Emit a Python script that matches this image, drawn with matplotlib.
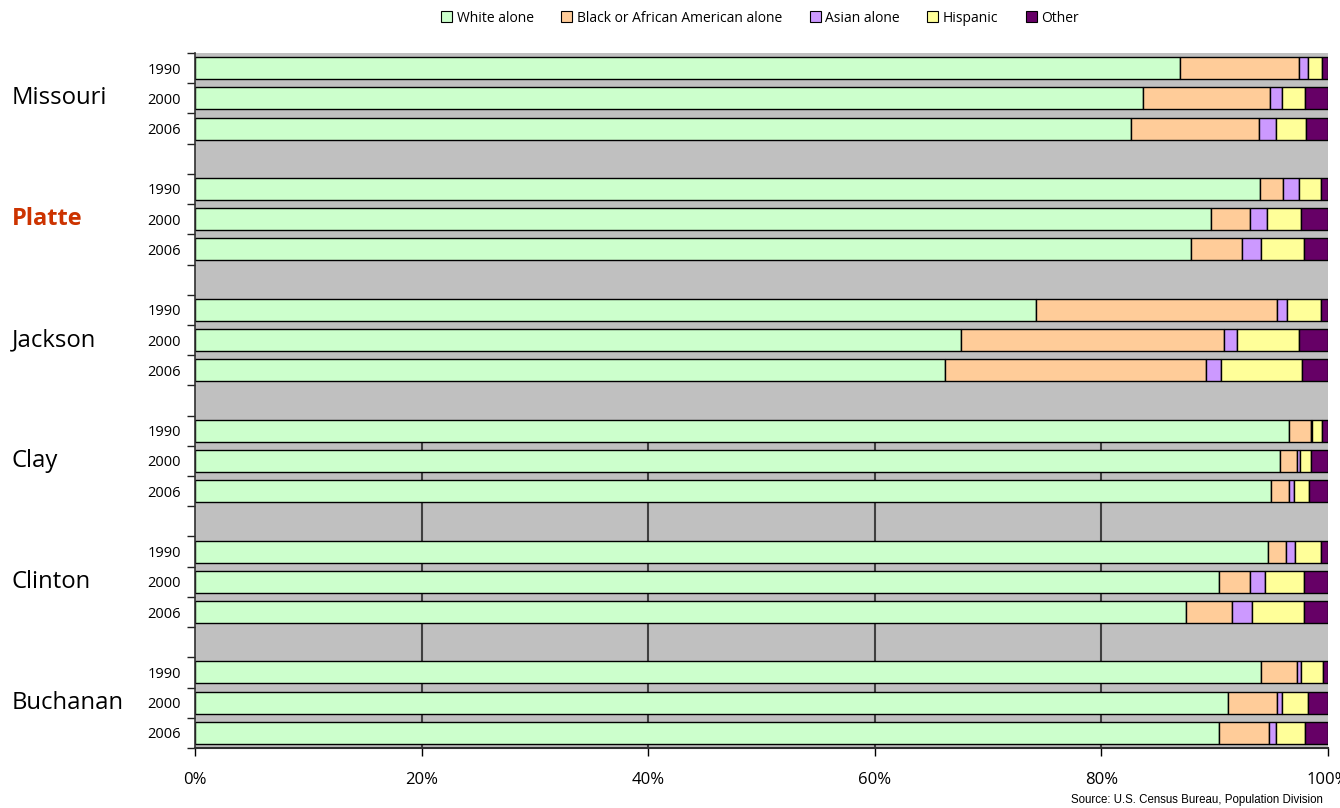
import matplotlib
matplotlib.use("Agg")
import matplotlib.pyplot as plt
from matplotlib.patches import Patch
from matplotlib.ticker import FixedLocator, FuncFormatter

plt.rcParams['font.family'] = ['Open Sans', 'DejaVu Sans']

counties = ["Missouri", "Platte", "Jackson", "Clay", "Clinton", "Buchanan"]
years = ["1990", "2000", "2006"]
series_names = ["White alone", "Black or African American alone", "Asian alone", "Hispanic", "Other"]
colors = ["#CCFFCC", "#FFCC99", "#CC99FF", "#FFFF99", "#660066"]

white = [86.9, 83.7, 82.6, 94.0, 89.7, 87.9, 74.2, 67.6, 66.2, 96.6, 95.8, 95.0, 94.7, 90.4, 87.5, 94.1, 91.2, 90.4]
black = [10.5, 11.2, 11.3, 2.0, 3.4, 4.5, 21.3, 23.2, 23.0, 1.9, 1.5, 1.6, 1.6, 2.7, 4.0, 3.2, 4.3, 4.4]
asian = [0.8, 1.0, 1.5, 1.4, 1.5, 1.7, 0.9, 1.2, 1.4, 0.1, 0.2, 0.4, 0.8, 1.3, 1.8, 0.3, 0.4, 0.6]
hispanic = [1.3, 2.1, 2.7, 2.0, 3.0, 3.8, 3.0, 5.4, 7.1, 0.9, 1.0, 1.3, 2.3, 3.5, 4.6, 2.0, 2.3, 2.6]
other = [0.5, 2.0, 1.9, 0.6, 2.4, 2.1, 0.6, 2.6, 2.3, 0.5, 1.5, 1.7, 0.6, 2.1, 2.1, 0.4, 1.8, 2.0]
series = [white, black, asian, hispanic, other]

fig = plt.figure(figsize=(13.4, 8.08), dpi=100)
ax = fig.add_axes([195/1340, 1-748/808, (1328-195)/1340, (748-53)/808])
ax.set_facecolor("#C0C0C0")

# slot positions: 3 bars per county, one empty slot between counties
positions = []
for g in range(len(counties)):
    for k in range(len(years)):
        positions.append(g * 4 + k)
nslots = len(counties) * 4 - 1

# partial gridlines (as in reference, visible in lower part only)
for xv in [20, 40, 60, 80]:
    ax.vlines(xv, 12.37, nslots - 0.5, color="#404040", linewidth=1.5, zorder=1)

left = [0.0] * len(positions)
for vals, col in zip(series, colors):
    ax.barh(positions, vals, left=left, height=0.73, color=col,
            edgecolor="black", linewidth=1.0, zorder=2)
    left = [l + v for l, v in zip(left, vals)]

ax.set_xlim(0, 100)
ax.set_ylim(nslots - 0.5, -0.5)

ax.xaxis.set_major_locator(FixedLocator([0, 20, 40, 60, 80, 100]))
ax.xaxis.set_major_formatter(FuncFormatter(lambda v, p: f"{int(v)}%"))
ax.tick_params(axis="x", direction="out", length=6, width=1, pad=11, labelsize=12, colors="black")

ax.yaxis.set_major_locator(FixedLocator([i - 0.5 for i in range(nslots + 1)]))
ax.yaxis.set_major_formatter(FuncFormatter(lambda v, p: ""))
ax.yaxis.set_minor_locator(FixedLocator(positions))
ax.yaxis.set_minor_formatter(FuncFormatter(lambda v, p: years[int(round(v)) % 4] if int(round(v)) % 4 < 3 else ""))
ax.tick_params(axis="y", which="major", direction="out", length=6, width=1, color="#202020")
ax.tick_params(axis="y", which="minor", length=0, pad=10, labelsize=10.5)

for s in ["top", "right"]:
    ax.spines[s].set_visible(False)
ax.spines["left"].set_color("#303030")
ax.spines["bottom"].set_color("#303030")
ax.spines["left"].set_linewidth(1.2)
ax.spines["bottom"].set_linewidth(1.5)

# county labels
for g, name in enumerate(counties):
    y = g * 4 + 1
    if name == "Platte":
        ax.text(-0.162, y, name, transform=ax.get_yaxis_transform(), ha="left", va="center",
                fontsize=17, fontweight="bold", color="#CC3300")
    else:
        ax.text(-0.162, y, name, transform=ax.get_yaxis_transform(), ha="left", va="center",
                fontsize=17.2, color="black")

handles = [Patch(facecolor=c, edgecolor="black", linewidth=0.8) for c in colors]
fig.legend(handles, series_names, loc="center", bbox_to_anchor=(760/1340, 1-18/808), ncol=5,
           frameon=False, fontsize=10, handlelength=0.8, handleheight=0.8,
           handletextpad=0.3, columnspacing=2.0)

fig.text(1323/1340, 1-800/808, "Source: U.S. Census Bureau, Population Division",
         ha="right", va="center", fontsize=8.3, family=["Liberation Sans", "DejaVu Sans"])

fig.savefig("out.png", dpi=100)
